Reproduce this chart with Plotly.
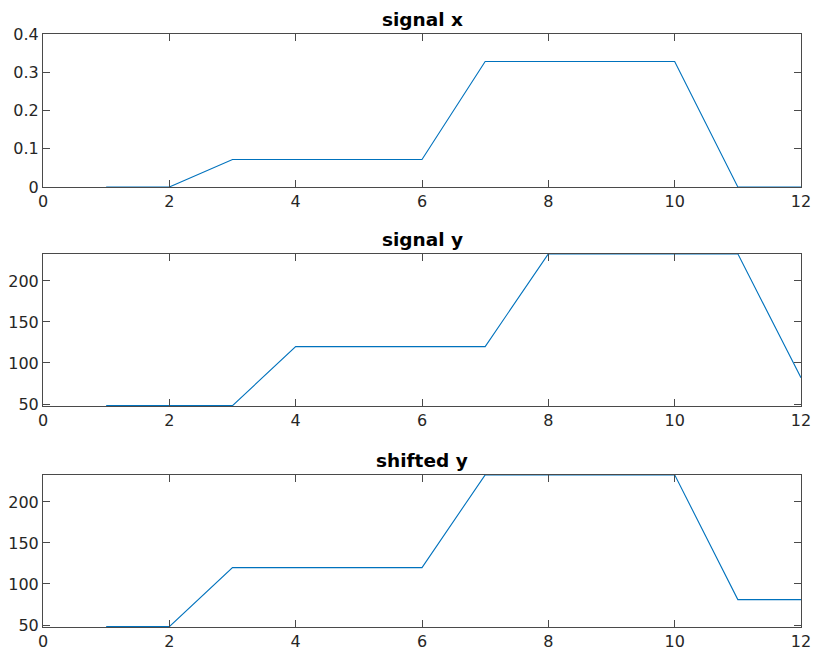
import plotly.graph_objects as go

# sample index
t = [1, 2, 3, 4, 5, 6, 7, 8, 9, 10, 11, 12]
# signals
signal_x = [0, 0, 0.072, 0.072, 0.072, 0.072, 0.328, 0.328, 0.328, 0.328, 0, 0]
signal_y = [48, 48, 48, 120, 120, 120, 120, 233, 233, 233, 233, 82]
shifted_y = [48, 48, 120, 120, 120, 120, 233, 233, 233, 233, 81, 81]

titles = ["signal x", "signal y", "shifted y"]
x_ticks = [0, 2, 4, 6, 8, 10, 12]
yticks_x = [0, 0.1, 0.2, 0.3, 0.4]
yticks_y = [50, 100, 150, 200]

W, H = 814, 650
LINE = "#0072BD"
AXLINE = "#4a4a4a"
AXTEXT = "#262626"
FONT = "DejaVu Sans"

# panel boxes in pixels: (top, bottom)
boxes = [(34, 187), (254, 406), (475, 627)]
left, right = 43, 801

fig = go.Figure()
series = [signal_x, signal_y, shifted_y]
yranges = [[0, 0.4], [47.6, 232.8], [47.6, 232.8]]
yticks = [yticks_x, yticks_y, yticks_y]

for i, (vals, title) in enumerate(zip(series, titles)):
    n = "" if i == 0 else str(i + 1)
    fig.add_trace(go.Scatter(x=t, y=vals, mode="lines",
                             line=dict(color=LINE, width=1.1),
                             xaxis="x" + n, yaxis="y" + n, showlegend=False))
    top, bot = boxes[i]
    common = dict(showline=True, linecolor=AXLINE, linewidth=1, mirror="ticks",
                  ticks="inside", ticklen=7, tickcolor=AXLINE, tickwidth=1,
                  showgrid=False, zeroline=False, automargin=False,
                  tickfont=dict(family=FONT, size=16, color=AXTEXT))
    fig.layout["xaxis" + n] = dict(domain=[left / W, right / W], range=[0, 12],
                                   tickvals=x_ticks, anchor="y" + n, **common)
    fig.layout["yaxis" + n] = dict(domain=[1 - bot / H, 1 - top / H],
                                   range=yranges[i], tickvals=yticks[i],
                                   anchor="x" + n, **common)
    fig.add_annotation(text="<b>" + title + "</b>", x=(left + right) / 2 / W,
                       y=1 - (top - 2) / H, xref="paper", yref="paper",
                       xanchor="center", yanchor="bottom", showarrow=False,
                       font=dict(family=FONT, size=18.5, color="black"))

fig.update_layout(template="none", width=W, height=H,
                  margin=dict(l=0, r=0, t=0, b=0, pad=0),
                  paper_bgcolor="white", plot_bgcolor="white")
fig.write_html("out.html")
